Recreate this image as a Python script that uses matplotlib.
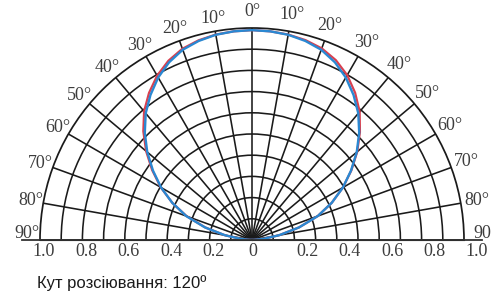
import numpy as np
import matplotlib
matplotlib.use("Agg")
import matplotlib.pyplot as plt
from matplotlib.transforms import ScaledTranslation

# ---- data ----
angles_deg = [-90, -85, -80, -75, -70, -65, -60, -55, -50, -45, -40, -35, -30, -25, -20, -15, -10, -5,
              0, 5, 10, 15, 20, 25, 30, 35, 40, 45, 50, 55, 60, 65, 70, 75, 80, 85, 90]
blue_r = [0.000, 0.050, 0.130, 0.230, 0.330, 0.415, 0.495, 0.570, 0.645, 0.715, 0.780, 0.835, 0.885, 0.925,
          0.955, 0.972, 0.983, 0.988, 0.990, 0.988, 0.983, 0.972, 0.955, 0.925, 0.885, 0.835, 0.780, 0.715,
          0.645, 0.570, 0.495, 0.415, 0.330, 0.230, 0.130, 0.050, 0.000]
red_r = [0.000, 0.050, 0.130, 0.228, 0.328, 0.415, 0.497, 0.575, 0.652, 0.725, 0.792, 0.847, 0.895, 0.933,
         0.960, 0.975, 0.984, 0.988, 0.990, 0.988, 0.984, 0.976, 0.962, 0.936, 0.898, 0.848, 0.790, 0.720,
         0.648, 0.572, 0.495, 0.415, 0.330, 0.230, 0.130, 0.050, 0.000]

grid_angles = list(range(-90, 91, 10))
ring_values = [0.1, 0.2, 0.3, 0.4, 0.5, 0.6, 0.7, 0.8, 0.9]
angle_labels = ["90°", "80°", "70°", "60°", "50°", "40°", "30°", "20°", "10°", "0°",
                "10°", "20°", "30°", "40°", "50°", "60°", "70°", "80°", "90"]
radial_label_values = [1.0, 0.8, 0.6, 0.4, 0.2, 0.0, 0.2, 0.4, 0.6, 0.8, 1.0]
radial_labels = ["1.0", "0.8", "0.6", "0.4", "0.2", "0", "0.2", "0.4", "0.6", "0.8", "1.0"]
caption = "Кут розсіювання: 120º"

# ---- figure ----
W, H = 491, 296
fig = plt.figure(figsize=(W / 100, H / 100), dpi=100)
cx, cy, R = 252, 240, 212
# polar wedge bbox is padded to a square: half-disc occupies the middle half vertically
top_px = cy - R - R / 2
ax = fig.add_axes([(cx - R) / W, (H - (top_px + 2 * R)) / H, 2 * R / W, 2 * R / H], projection="polar")
ax.set_theta_zero_location("N")
ax.set_theta_direction(-1)
ax.set_thetamin(-90)
ax.set_thetamax(90)
ax.set_ylim(0, 1)
ax.set_thetagrids(grid_angles, labels=[""] * len(grid_angles))
ax.set_rgrids(ring_values, labels=[""] * len(ring_values))
ax.grid(True, color="#1a1a1a", lw=1.15)
ax.spines["polar"].set(color="#1a1a1a", lw=1.25)
ax.spines["start"].set_visible(False)
ax.spines["end"].set_visible(False)
ax.tick_params(length=0, pad=0)

th = np.deg2rad(angles_deg)
ax.plot(th, red_r, color="#d8404f", lw=1.6, zorder=3)
ax.plot(th, blue_r, color="#2a88d2", lw=1.7, zorder=4)

# baseline extending beyond the outer ring
ax.plot([-np.pi / 2, -np.pi / 2], [0, 1.085], color="#333333", lw=1.3, clip_on=False, zorder=5)
ax.plot([np.pi / 2, np.pi / 2], [0, 1.085], color="#333333", lw=1.3, clip_on=False, zorder=5)

# angle labels
serif = dict(family="Liberation Serif", fontsize=13, color="#3d3d3d")
for a, lab in zip(grid_angles, angle_labels):
    r = 1.06 if a < 0 else 1.078
    aa = a
    if a == -90:
        aa = -88.4
    elif a == 90:
        aa, r = 88.4, 1.085
    ax.text(np.deg2rad(aa), r, lab, ha="center", va="center", clip_on=False, **serif)

# radial labels below baseline
for i, (v, lab) in enumerate(zip(radial_label_values, radial_labels)):
    if i < 5:
        theta, dx = -np.pi / 2, 4
    elif i == 5:
        theta, dx = 0.0, 1
    else:
        theta, dx = np.pi / 2, 13
    tr = ax.transData + ScaledTranslation(dx / 100, -12 / 100, fig.dpi_scale_trans)
    ax.text(theta, v, lab, transform=tr, ha="center", va="center", clip_on=False, **serif)

fig.text(37 / W, 1 - 288 / H, caption, family="Liberation Sans", fontsize=12,
         color="#1a1a1a", ha="left", va="baseline")

fig.savefig("out.png", dpi=100)
